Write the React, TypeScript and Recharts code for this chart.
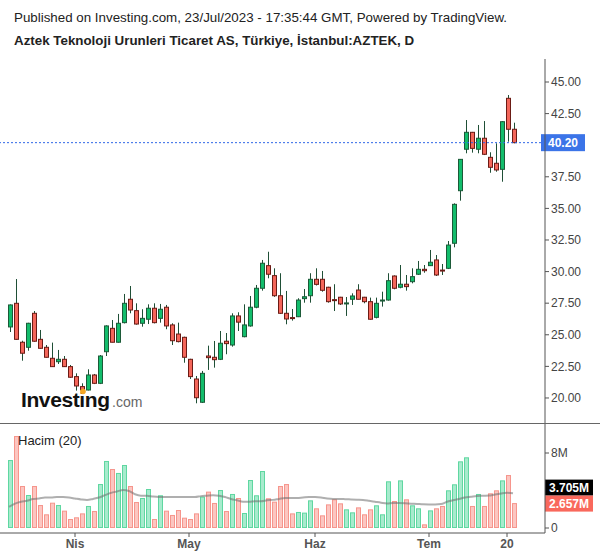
import { ComposedChart, Bar, Line, XAxis, YAxis, ReferenceLine } from 'recharts';

// OHLC diario de AZTEK (17 Mar - 21 Jul 2023)
const opens = [
  25.62, 27.49, 24.41, 24.01, 26.7, 24.64, 24.01, 23.14, 22.87, 23.06,
  22.48, 21.69, 20.9, 20.63, 21.82, 21.16, 23.66, 25.51, 24.41, 25.96,
  27.81, 26.91, 25.91, 26.23, 27.1, 26.3, 27.18, 25.78, 25.06, 24.8,
  23.06, 21.5, 19.66, 23.32, 23.22, 23.06, 24.49, 24.19, 26.49, 24.85,
  25.7, 27.18, 28.68, 30.47, 29.68, 28.09, 26.7, 26.36, 26.43, 27.86,
  28.09, 29.39, 29.39, 28.76, 27.78, 27.97, 27.48, 27.81, 28.54, 27.97,
  27.62, 26.38, 27.67, 27.75, 29.65, 28.76, 29.0, 29.2, 29.79, 30.18,
  30.47, 30.92, 30.12, 30.26, 32.24, 36.4, 39.68, 41.02, 39.68, 40.55,
  39.04, 38.57, 38.09, 43.71, 41.26,
];
const highs = [
  27.4, 29.41, 24.53, 25.95, 26.88, 25.38, 24.19, 24.38, 23.8, 23.32,
  22.61, 21.95, 21.16, 22.27, 21.9, 23.4, 25.75, 26.17, 26.65, 28.23,
  28.86, 27.49, 27.02, 27.41, 27.49, 27.44, 27.36, 25.91, 25.96, 24.85,
  23.1, 21.74, 22.14, 24.14, 24.51, 25.3, 25.14, 26.7, 26.78, 27.41,
  28.07, 28.94, 30.92, 31.57, 30.26, 29.87, 28.47, 27.04, 27.89, 28.62,
  29.87, 30.26, 30.05, 28.8, 29.0, 28.0, 27.99, 28.28, 29.0, 28.0,
  27.94, 27.94, 28.41, 29.87, 29.7, 30.52, 29.73, 30.26, 30.84, 30.52,
  31.71, 31.31, 30.6, 32.42, 35.4, 38.9, 41.99, 41.05, 41.6, 41.91,
  39.44, 40.15, 41.9, 43.97, 41.78,
];
const lows = [
  25.22, 24.6, 22.95, 23.74, 24.45, 23.9, 23.2, 22.45, 22.69, 22.45,
  21.6, 20.58, 20.5, 20.6, 21.1, 21.1, 23.32, 24.4, 24.38, 25.9,
  26.7, 25.8, 25.64, 25.85, 25.9, 25.96, 25.44, 24.19, 24.4, 22.79,
  21.5, 19.58, 19.6, 22.22, 22.4, 23.0, 23.46, 24.06, 25.3, 24.8,
  25.64, 27.1, 28.49, 29.47, 28.0, 26.65, 25.83, 26.12, 26.4, 27.54,
  27.54, 28.9, 28.41, 27.54, 26.88, 27.36, 26.49, 27.36, 27.8, 27.49,
  26.2, 26.3, 27.23, 27.7, 28.6, 28.68, 28.49, 29.07, 29.73, 29.91,
  30.44, 29.65, 29.73, 30.2, 31.92, 35.61, 39.36, 39.41, 39.36, 39.22,
  37.82, 37.9, 37.11, 40.28, 40.15,
];
const closes = [
  27.36, 24.64, 23.54, 25.91, 24.49, 23.93, 23.22, 22.48, 23.06, 22.48,
  21.64, 20.95, 20.63, 21.82, 21.16, 23.32, 25.7, 24.41, 25.91, 27.49,
  26.96, 25.85, 26.3, 27.1, 25.96, 27.02, 25.7, 24.53, 24.46, 23.22,
  21.69, 20.02, 21.95, 23.19, 23.03, 24.33, 24.3, 26.49, 26.0, 25.78,
  27.18, 28.68, 30.66, 29.79, 28.09, 26.7, 26.25, 26.3, 27.75, 28.01,
  29.39, 28.99, 28.52, 27.62, 27.72, 27.44, 27.52, 28.07, 27.81, 27.62,
  26.23, 27.49, 27.75, 29.28, 28.68, 29.0, 28.81, 29.6, 30.18, 30.07,
  30.74, 29.73, 30.07, 32.1, 35.32, 38.88, 41.02, 39.75, 40.55, 39.28,
  38.25, 38.04, 41.86, 41.26, 40.2,
];
// hacim en millones
const volumes = [
  7.25, 9.81, 4.48, 3.52, 4.48, 2.45, 1.46, 2.7, 2.45, 1.85,
  0.96, 1.14, 1.56, 2.35, 1.81, 4.69, 7.15, 6.29, 5.87, 6.72,
  4.48, 2.77, 3.2, 4.16, 0.96, 3.49, 1.85, 1.39, 1.92, 1.1,
  0.96, 1.56, 3.34, 3.88, 2.67, 4.05, 1.81, 3.63, 3.2, 1.6,
  5.12, 3.49, 6.08, 3.17, 2.81, 4.48, 4.69, 1.56, 1.71, 1.64,
  2.95, 2.1, 1.35, 2.52, 3.06, 2.63, 1.99, 1.67, 2.2, 1.46,
  1.99, 2.42, 1.46, 4.98, 2.88, 5.08, 3.06, 2.42, 2.1, 0.39,
  1.88, 2.1, 2.35, 4.02, 4.66, 7.11, 7.54, 2.35, 3.63, 2.35,
  3.7, 4.02, 5.08, 5.65, 2.657,
];
const volumeMA = [
  2.25, 2.6, 2.8, 2.9, 3.1, 3.15, 3.25, 3.25, 3.3, 3.3,
  3.25, 3.15, 3.05, 2.99, 3.1, 3.25, 3.5, 3.75, 3.9, 4.05,
  3.95, 3.6, 3.45, 3.45, 3.35, 3.3, 3.3, 3.3, 3.3, 3.3,
  3.3, 3.3, 3.4, 3.45, 3.5, 3.45, 3.3, 3.1, 2.95, 2.8,
  2.8, 2.85, 2.85, 2.95, 3.0, 3.1, 3.2, 3.2, 3.2, 3.25,
  3.3, 3.3, 3.25, 3.15, 3.1, 3.1, 3.08, 3.05, 3.02, 2.99,
  2.9, 2.8, 2.7, 2.62, 2.66, 2.66, 2.64, 2.6, 2.57, 2.53,
  2.52, 2.52, 2.55, 2.8, 2.95, 3.1, 3.25, 3.33, 3.41, 3.44,
  3.46, 3.58, 3.68, 3.75, 3.705,
];

const xTicks = [11, 30, 51, 70, 83];
const xTickLabels = ['Nis', 'May', 'Haz', 'Tem', '20'];
// 40.00 queda tapado por la etiqueta del último precio
const priceTicks = [20, 22.5, 25, 27.5, 30, 32.5, 35, 37.5, 42.5, 45];
const volTicks = [0, 8];
const lastPrice = 40.2;
const lastVolume = 2.657;
const lastVolumeMA = 3.705;

const data = opens.map((o, i) => ({
  i,
  open: o,
  high: highs[i],
  low: lows[i],
  close: closes[i],
  range: [lows[i], highs[i]],
  vol: volumes[i],
  ma: volumeMA[i],
}));

const X_DOMAIN = [-1.5, 89.333];
const AXIS = '#555';
const FONT = '"Liberation Sans", Arial, sans-serif';

function Candle(props: any) {
  const { x, y, width, height, payload } = props;
  if (!payload) return null;
  const { open, close, high, low } = payload;
  const top = Math.min(y, y + height);
  const h = Math.abs(height);
  const k = h / (high - low || 1);
  const py = (p: number) => top + (high - p) * k;
  const up = close >= open;
  const L = Math.round(x + width / 2) - 2;
  const wx = L + 2.5;
  const bTop = py(Math.max(open, close));
  const bBot = py(Math.min(open, close));
  return (
    <g>
      <line x1={wx} x2={wx} y1={top} y2={top + h} stroke="#1f4f36" strokeWidth={1} />
      <rect
        x={L + 0.5}
        y={bTop}
        width={4}
        height={Math.max(bBot - bTop, 1)}
        fill={up ? '#13bd6c' : '#f4665a'}
        stroke={up ? '#1c5a38' : '#6b1b15'}
        strokeWidth={1}
      />
    </g>
  );
}

function VolBar(props: any) {
  const { x, y, width, height, payload } = props;
  if (!payload) return null;
  const up = payload.close >= payload.open;
  const L = Math.round(x + width / 2) - 2;
  return (
    <rect
      x={L + 0.5}
      y={y + 0.5}
      width={4}
      height={Math.max(height - 1, 0.5)}
      fill={up ? '#a7ebcd' : '#fcc6c1'}
      stroke={up ? '#5fd7a1' : '#f6958c'}
      strokeWidth={1}
    />
  );
}

function PriceTag(props: any) {
  const vb = props.viewBox || {};
  const x = vb.x + vb.width - 4;
  const y = vb.y;
  return (
    <g>
      <rect x={x} y={y - 8.5} width={44} height={17} fill="#3b74e8" />
      <text x={x + 22} y={y + 4} textAnchor="middle" fill="#fff" fontSize={12} fontWeight={700} fontFamily={FONT}>
        {lastPrice.toFixed(2)}
      </text>
    </g>
  );
}

function VolumeTags(props: any) {
  const vb = props.viewBox || {};
  const x = vb.x + vb.width;
  const y = vb.y;
  return (
    <g>
      <rect x={x} y={y - 23.5} width={48} height={16} fill="#000" />
      <text x={x + 24} y={y - 11} textAnchor="middle" fill="#fff" fontSize={12} fontWeight={700} fontFamily={FONT}>
        {lastVolumeMA.toFixed(3)}M
      </text>
      <rect x={x} y={y - 7.5} width={48} height={16} fill="#f9685c" />
      <text x={x + 24} y={y + 5} textAnchor="middle" fill="#fff" fontSize={12} fontWeight={700} fontFamily={FONT}>
        {lastVolume.toFixed(3)}M
      </text>
    </g>
  );
}

export default function App() {
  return (
    <div style={{ position: 'absolute', left: 0, top: 0, width: 600, height: 558, background: '#fff', fontFamily: FONT }}>
      <ComposedChart width={600} height={423} data={data} margin={{ top: 59, right: 0, bottom: 0, left: 0 }}>
        <XAxis dataKey="i" type="number" domain={X_DOMAIN} allowDataOverflow hide />
        <YAxis
          orientation="right"
          width={55}
          domain={[18.02, 46.82]}
          allowDataOverflow
          ticks={priceTicks}
          interval={0}
          tickFormatter={(v: number) => v.toFixed(2)}
          tick={{ fill: '#444', fontSize: 12 }}
          axisLine={{ stroke: AXIS }}
          tickLine={{ stroke: AXIS }}
          tickSize={4}
        />
        <ReferenceLine y={lastPrice} stroke="#2f66e8" strokeDasharray="2 2" label={(p: any) => <PriceTag {...p} />} />
        <Bar dataKey="range" barSize={5} shape={(p: any) => <Candle {...p} />} isAnimationActive={false} />
      </ComposedChart>

      <div style={{ position: 'absolute', left: 0, top: 423, width: 600 }}>
        <ComposedChart width={600} height={135} data={data} margin={{ top: 0, right: 0, bottom: 0, left: 0 }}>
          <XAxis
            dataKey="i"
            type="number"
            domain={X_DOMAIN}
            allowDataOverflow
            ticks={xTicks}
            interval={0}
            tickFormatter={(v: number) => xTickLabels[xTicks.indexOf(v)]}
            height={25}
            tick={{ fill: '#555', fontSize: 12, fontWeight: 700 }}
            axisLine={{ stroke: AXIS }}
            tickLine={{ stroke: AXIS }}
            tickSize={4}
          />
          <YAxis
            orientation="right"
            width={55}
            domain={[-0.533, 11.2]}
            allowDataOverflow
            ticks={volTicks}
            interval={0}
            tickFormatter={(v: number) => (v === 0 ? '0' : `${v}M`)}
            tick={{ fill: '#444', fontSize: 12 }}
            axisLine={{ stroke: AXIS }}
            tickLine={{ stroke: AXIS }}
            tickSize={4}
          />
          <Bar dataKey="vol" barSize={5} shape={(p: any) => <VolBar {...p} />} isAnimationActive={false} />
          <Line
            dataKey="ma"
            type="monotone"
            stroke="rgba(110,110,110,0.55)"
            strokeWidth={2}
            dot={false}
            isAnimationActive={false}
          />
          <ReferenceLine y={lastVolume} stroke="transparent" label={(p: any) => <VolumeTags {...p} />} />
        </ComposedChart>
      </div>

      {/* separador de paneles */}
      <div style={{ position: 'absolute', left: 0, top: 423, width: 600, height: 1, background: '#666' }} />

      <svg width={600} height={558} style={{ position: 'absolute', left: 0, top: 0, pointerEvents: 'none' }}>
        <text x={14} y={22} fontSize={13.35} fill="#222" fontFamily={FONT}>
          Published on Investing.com, 23/Jul/2023 - 17:35:44 GMT, Powered by TradingView.
        </text>
        <text x={14} y={45} fontSize={13.35} fontWeight={700} fill="#222" fontFamily={FONT}>
          Aztek Teknoloji Urunleri Ticaret AS, Türkiye, İstanbul:AZTEK, D
        </text>
        <text x={21} y={406.5} fontSize={21} fontWeight={700} letterSpacing={-0.4} fill="#111" fontFamily={FONT}>
          Investing
        </text>
        <circle cx={83} cy={391.5} r={2.8} fill="#f5a623" />
        <text x={112} y={406.5} fontSize={14} fill="#666" fontFamily={FONT}>
          .com
        </text>
        <text x={18} y={445} fontSize={13} fill="#222" fontFamily={FONT}>
          Hacim (20)
        </text>
      </svg>
    </div>
  );
}
